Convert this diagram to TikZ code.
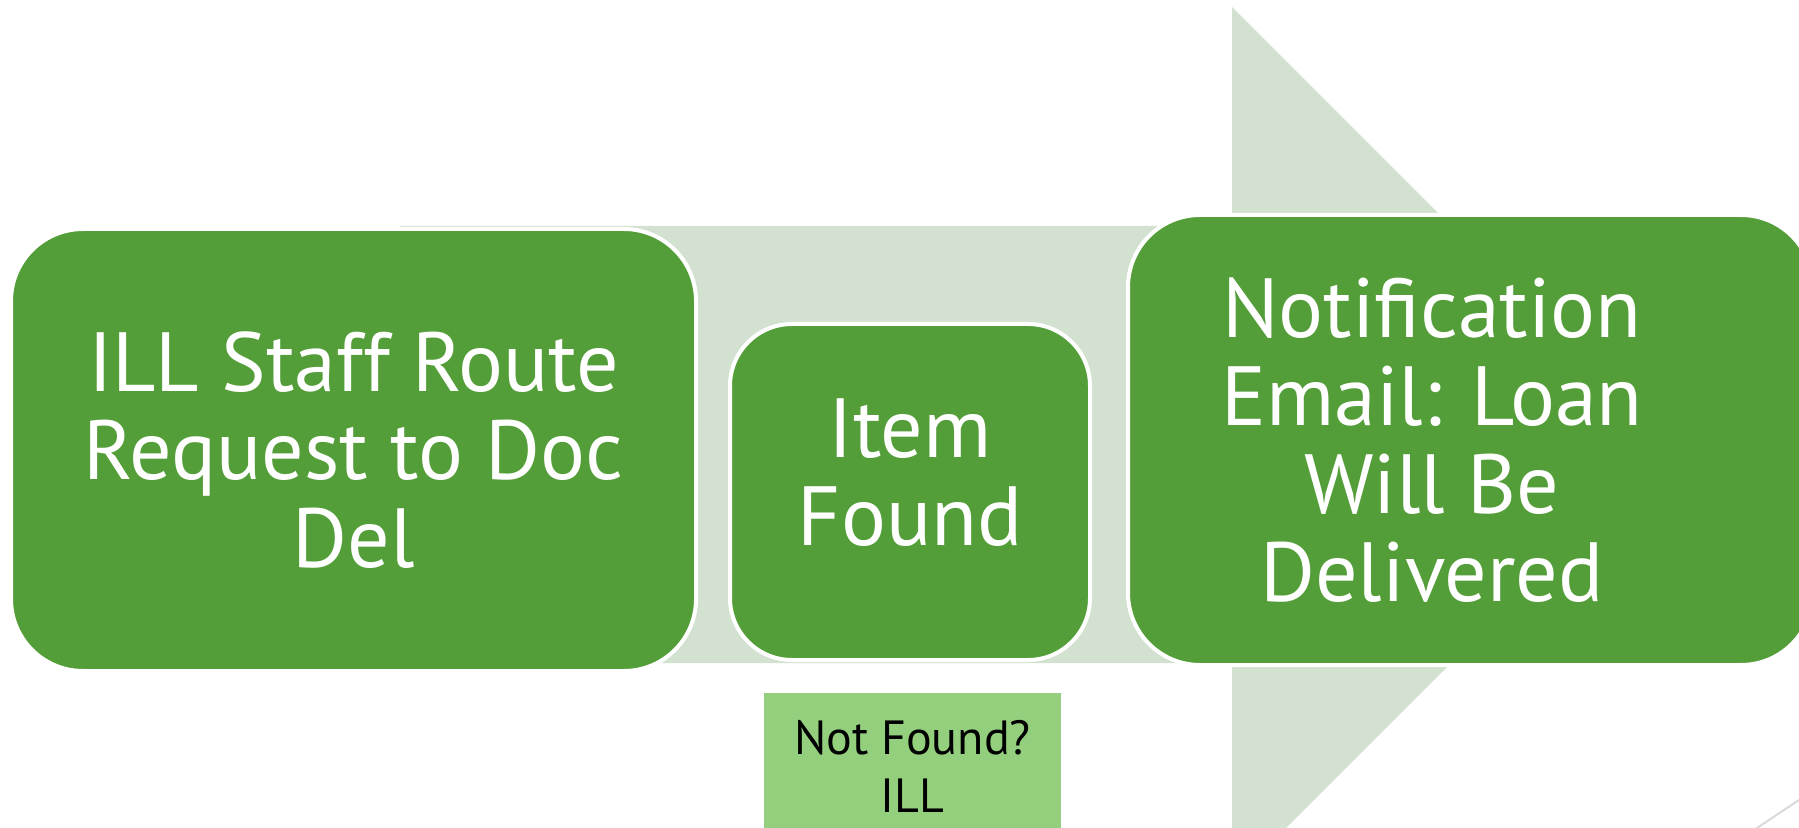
\documentclass[tikz,border=0pt]{standalone}
\usepackage{fontspec}
\setmainfont{PT Sans}
\definecolor{stepgreen}{RGB}{84,158,57}
\definecolor{flowpale}{RGB}{211,225,209}
\definecolor{notegreen}{RGB}{147,207,125}
\definecolor{cornergrey}{RGB}{217,217,217}
\begin{document}
\begin{tikzpicture}[x=0.5pt,y=-0.5pt,
  greenbox/.style={rectangle, rounded corners=36pt, fill=stepgreen, draw=white, line width=2pt, inner sep=0pt},
  boxtext/.style={text=white, align=center, font=\fontsize{42}{44}\selectfont},
  notebox/.style={rectangle, fill=notegreen, draw=none, inner sep=0pt, align=center, font=\fontsize{24}{29}\selectfont}]
\useasboundingbox (0,0) rectangle (1799,828);
\clip (0,0) rectangle (1799,828);

% big pale arrow behind
\fill[flowpale] (400,226) -- (1232,226) -- (1232,7) -- (1669.5,444.5) -- (1232,882) -- (1232,663) -- (400,663) -- cycle;

\node[greenbox, boxtext, minimum width=342.5pt, minimum height=221pt] (route) at (353.5,450) {ILL Staff Route\\Request to Doc\\Del};
\node[greenbox, boxtext, rounded corners=31pt, minimum width=180pt, minimum height=168pt, text depth=20pt] (found) at (910,492) {Item\\Found};
\node[greenbox, minimum width=342.5pt, minimum height=225pt] (notify) at (1470.5,440) {};
\node[boxtext] (notifytext) at (1432,440) {Notification\\Email: Loan\\Will Be\\Delivered};

\node[notebox, minimum width=148.5pt, minimum height=73.5pt] (notfound) at (912.5,766.5) {Not Found?\\ILL};

\draw[cornergrey, line width=1pt] (1742,838) -- (1814,790);
\end{tikzpicture}
\end{document}
